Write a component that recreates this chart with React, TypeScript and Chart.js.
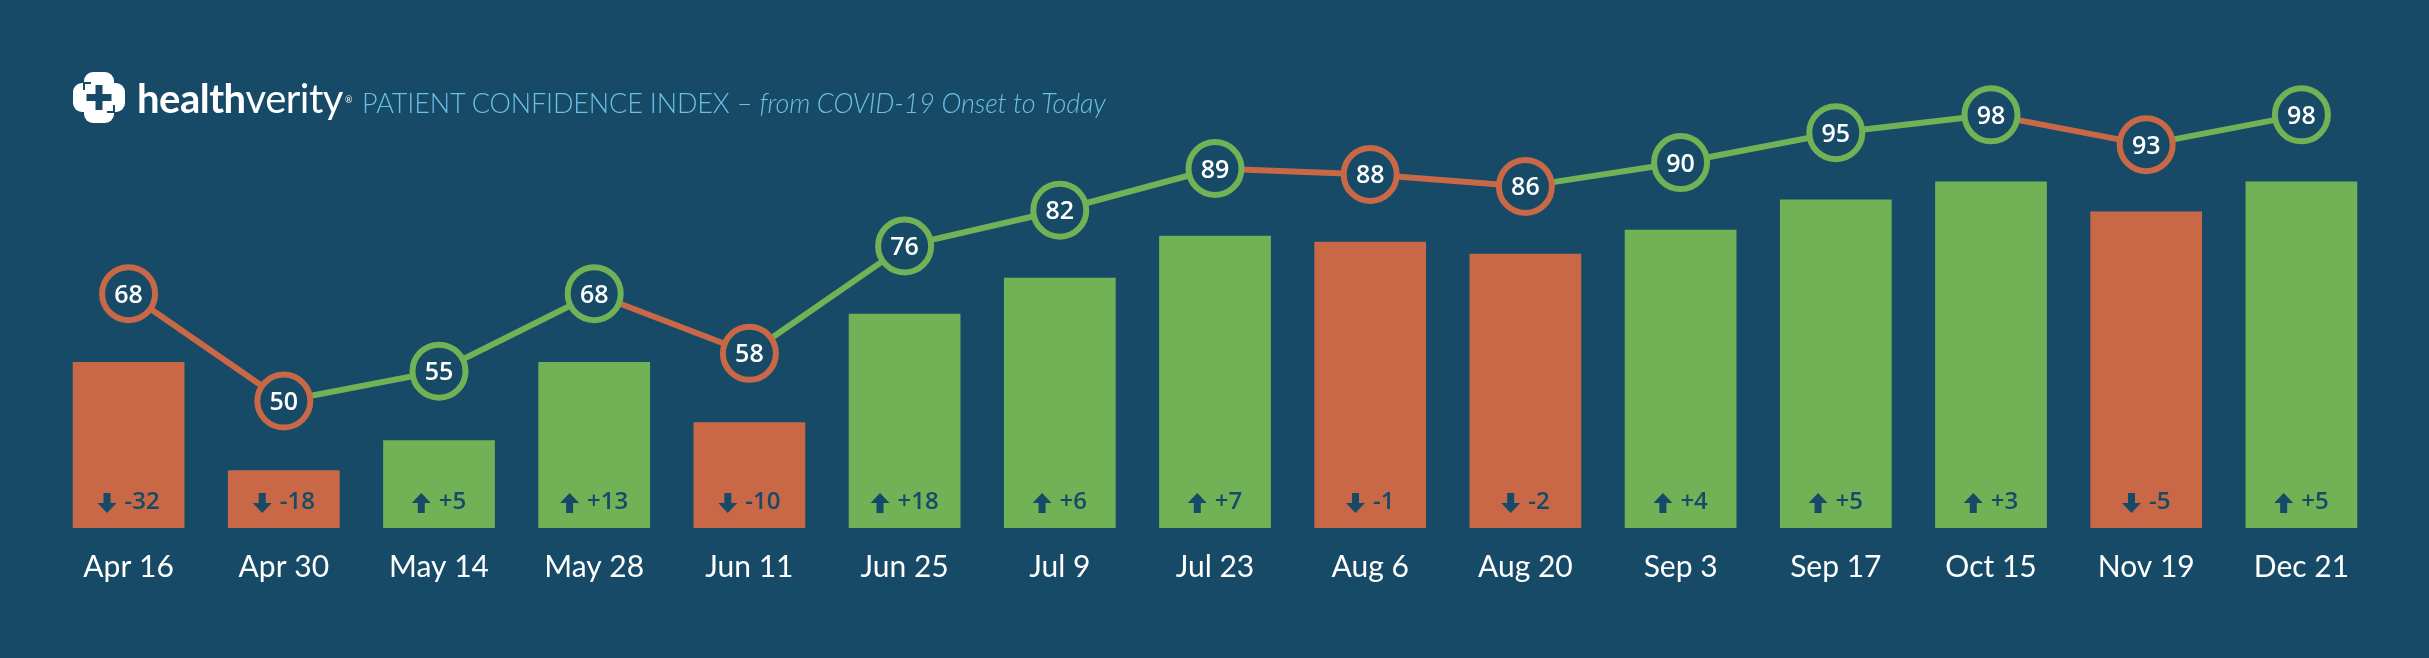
import React, { useEffect, useRef } from 'react';
import { Chart, registerables } from 'chart.js';

Chart.register(...registerables);

const labels = ['Apr 16', 'Apr 30', 'May 14', 'May 28', 'Jun 11', 'Jun 25', 'Jul 9', 'Jul 23', 'Aug 6', 'Aug 20', 'Sep 3', 'Sep 17', 'Oct 15', 'Nov 19', 'Dec 21'];
const indexValues = [68, 50, 55, 68, 58, 76, 82, 89, 88, 86, 90, 95, 98, 93, 98];
const changes = [-32, -18, 5, 13, -10, 18, 6, 7, -1, -2, 4, 5, 3, -5, 5];

const BG = '#164a66';
const GREEN = '#71b256';
const ORANGE = '#c96846';
const TITLE = '#6dbfe6';

const colorFor = (c: number) => (c >= 0 ? GREEN : ORANGE);

function drawArrow(ctx: CanvasRenderingContext2D, cx: number, cy: number, up: boolean) {
  const s = up ? -1 : 1;
  ctx.beginPath();
  ctx.moveTo(cx - 3.5, cy - s * 10);
  ctx.lineTo(cx + 3.5, cy - s * 10);
  ctx.lineTo(cx + 3.5, cy);
  ctx.lineTo(cx + 9.5, cy);
  ctx.lineTo(cx, cy + s * 10);
  ctx.lineTo(cx - 9.5, cy);
  ctx.lineTo(cx - 3.5, cy);
  ctx.closePath();
  ctx.fillStyle = BG;
  ctx.fill();
}

const labelPlugin = {
  id: 'hvLabels',
  afterDatasetsDraw(chart: any) {
    const ctx: CanvasRenderingContext2D = chart.ctx;
    const barMeta = chart.getDatasetMeta(0);
    const lineMeta = chart.getDatasetMeta(1);
    const baseY: number = chart.chartArea.bottom;
    ctx.save();
    ctx.font = '600 24px "Open Sans"';
    ctx.textBaseline = 'alphabetic';
    ctx.textAlign = 'left';
    barMeta.data.forEach((bar: any, i: number) => {
      const c = changes[i];
      const txt = (c > 0 ? '+' : '') + String(c);
      const tw = ctx.measureText(txt).width;
      const aw = 19;
      const gap = 8;
      const total = aw + gap + tw;
      const x0 = bar.x - total / 2;
      drawArrow(ctx, x0 + aw / 2, baseY - 25, c >= 0);
      ctx.fillStyle = BG;
      ctx.fillText(txt, x0 + aw + gap, baseY - 19);
    });
    ctx.font = '600 25px "Open Sans"';
    ctx.fillStyle = '#ffffff';
    ctx.textAlign = 'center';
    lineMeta.data.forEach((pt: any, i: number) => {
      ctx.fillText(String(indexValues[i]), pt.x, pt.y + 9);
    });
    ctx.restore();
  },
};

export default function App() {
  const canvasRef = useRef<HTMLCanvasElement | null>(null);

  useEffect(() => {
    if (!canvasRef.current) return;
    const chart = new Chart(canvasRef.current, {
      type: 'bar',
      data: {
        labels,
        datasets: [
          {
            type: 'bar',
            data: indexValues,
            backgroundColor: changes.map(colorFor),
            borderWidth: 0,
            barPercentage: 0.72,
            categoryPercentage: 1,
            yAxisID: 'yBar',
            order: 2,
          },
          {
            type: 'line',
            data: indexValues,
            borderWidth: 6,
            borderColor: GREEN,
            segment: {
              borderColor: (ctx: any) => colorFor(changes[ctx.p1DataIndex]),
            },
            pointRadius: 26.5,
            pointHoverRadius: 26.5,
            pointBorderWidth: 6,
            pointBorderColor: changes.map(colorFor),
            pointBackgroundColor: BG,
            tension: 0,
            clip: false,
            yAxisID: 'yLine',
            order: 1,
          } as any,
        ],
      },
      options: {
        responsive: false,
        animation: false,
        devicePixelRatio: 1,
        layout: { padding: { left: 51, right: 50, top: 60, bottom: 52 } },
        plugins: {
          legend: { display: false },
          tooltip: { enabled: false },
          title: { display: false },
        },
        scales: {
          x: {
            offset: true,
            grid: { display: false, drawTicks: false },
            border: { display: false },
            ticks: {
              color: '#ffffff',
              font: { family: 'Lato', size: 30, weight: 'normal' as any },
              padding: 21,
              maxRotation: 0,
              autoSkip: false,
            },
          },
          yBar: {
            display: false,
            min: 40.4,
            max: 118.2,
          },
          yLine: {
            display: false,
            min: 28.7,
            max: 107.2,
          },
        },
      },
      plugins: [labelPlugin],
    });
    return () => chart.destroy();
  }, []);

  return (
    <div style={{ position: 'absolute', left: 0, top: 0, width: 2429, height: 658, background: BG, overflow: 'hidden' }}>
      <canvas ref={canvasRef} width={2429} height={658} style={{ position: 'absolute', left: 0, top: 0 }} />
      <svg width={52} height={51} viewBox="0 0 52 51" style={{ position: 'absolute', left: 73, top: 72 }}>
        <rect x={11} y={0} width={30} height={51} rx={9} fill="#ffffff" />
        <rect x={0} y={11} width={52} height={29} rx={9} fill="#ffffff" />
        <rect x={22.5} y={13} width={7} height={25} fill={BG} />
        <rect x={13.5} y={22} width={25} height={7} fill={BG} />
        <path d="M11 18 L11 11 L18 11" stroke={BG} strokeWidth={2} fill="none" />
        <path d="M41 33 L41 40 L34 40" stroke={BG} strokeWidth={2} fill="none" />
      </svg>
      <div style={{ position: 'absolute', left: 137, top: 77.5, fontFamily: 'Lato', fontSize: 40, lineHeight: '40px', color: '#ffffff', whiteSpace: 'nowrap', letterSpacing: '-0.5px' }}>
        <span style={{ fontWeight: 700 }}>health</span>
        <span style={{ fontWeight: 400 }}>verity</span>
        <sup style={{ fontSize: 9, verticalAlign: 'top', position: 'relative', top: 2, marginLeft: 2 }}>®</sup>
      </div>
      <div style={{ position: 'absolute', left: 362, top: 88.8, fontFamily: 'Lato', fontWeight: 300, fontSize: 27, lineHeight: '27px', color: TITLE, whiteSpace: 'nowrap', letterSpacing: '-0.15px' }}>
        PATIENT CONFIDENCE INDEX – <span style={{ fontStyle: 'italic' }}>from COVID-19 Onset to Today</span>
      </div>
    </div>
  );
}
